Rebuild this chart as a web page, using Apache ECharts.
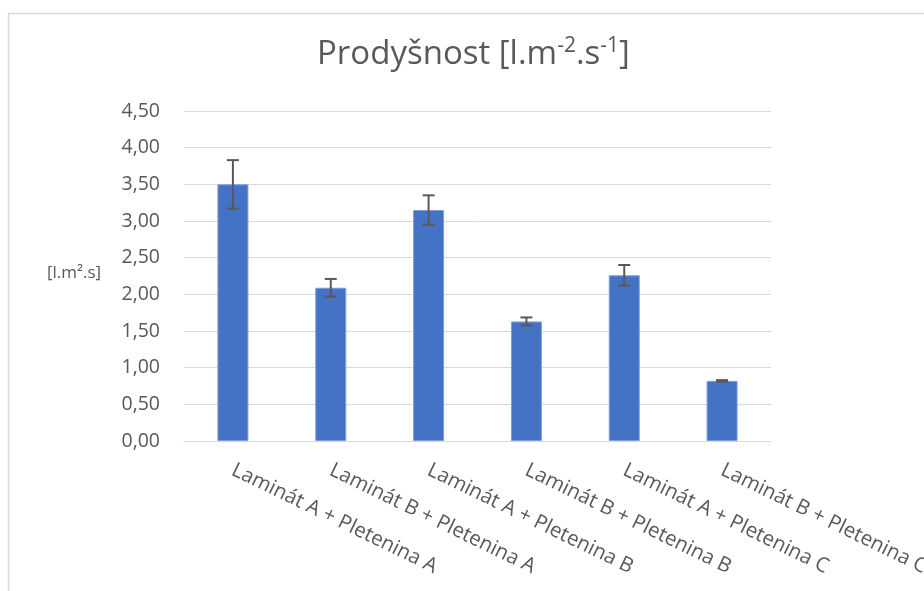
<!DOCTYPE html>
<html>
<head>
<meta charset="utf-8">
<script src="https://cdn.jsdelivr.net/npm/echarts@6/dist/echarts.min.js"></script>
<style>html,body{margin:0;padding:0;background:#fff;}#c{width:924px;height:591px;}</style>
</head>
<body>
<div id="c"></div>
<script>
const categories = [
  'Laminát A + Pletenina A',
  'Laminát B + Pletenina A',
  'Laminát A + Pletenina B',
  'Laminát B + Pletenina B',
  'Laminát A + Pletenina C',
  'Laminát B + Pletenina C'
];
const values = [3.50, 2.09, 3.15, 1.63, 2.26, 0.82];
const errors = [0.33, 0.12, 0.20, 0.055, 0.14, 0.01];
const yTicks = { min: 0, max: 4.5, interval: 0.5 };

const FONT = '"Open Sans", "Noto Sans", sans-serif';
const chart = echarts.init(document.getElementById('c'), null, { renderer: 'canvas' });

const errData = values.map((v, i) => [i, v - errors[i], v + errors[i]]);

chart.setOption({
  backgroundColor: '#ffffff',
  animation: false,
  textStyle: { fontFamily: FONT },
  title: {
    text: '{m|Prodyšnost [l.m}{s|-2}{m|.s}{s|-1}{m|]}',
    left: 312,
    top: 31,
    textStyle: {
      fontWeight: 'normal',
      rich: {
        m: { fontSize: 33, color: '#595959', fontFamily: FONT, fontWeight: 'normal' },
        s: { fontSize: 21, color: '#595959', fontFamily: FONT, fontWeight: 'normal', verticalAlign: 'top', padding: [0, 0, 16, 0] }
      }
    }
  },
  graphic: [
    { type: 'rect', shape: { x: 8.5, y: 13.5, width: 2000, height: 2000 }, style: { fill: 'none', stroke: '#d9d9d9', lineWidth: 1.5 }, silent: true },
    { type: 'text', left: 47, top: 265, style: { text: '[l.m².s]', fontSize: 17, fill: '#595959', fontFamily: FONT } }
  ],
  grid: { left: 184, right: 153, top: 111, bottom: 150, containLabel: false, outerBoundsMode: 'none' },
  xAxis: {
    type: 'category',
    data: categories,
    axisLine: { show: true, lineStyle: { color: '#d9d9d9', width: 1 } },
    axisTick: { show: false },
    axisLabel: {
      interval: 0,
      rotate: -26,
      margin: 28,
      fontSize: 20.5,
      color: '#595959',
      fontFamily: FONT
    }
  },
  yAxis: {
    type: 'value',
    min: yTicks.min,
    max: yTicks.max,
    interval: yTicks.interval,
    axisLine: { show: false },
    axisTick: { show: false },
    splitLine: { lineStyle: { color: '#d9d9d9', width: 1 } },
    axisLabel: {
      fontSize: 19.5,
      color: '#595959',
      margin: 24,
      fontFamily: FONT,
      formatter: v => v.toFixed(2).replace('.', ',')
    }
  },
  series: [
    {
      type: 'bar',
      data: values,
      barWidth: 31,
      itemStyle: { color: '#4472C4', borderColor: '#7d9fdb', borderWidth: 1 }
    },
    {
      type: 'custom',
      data: errData,
      z: 10,
      renderItem: function (params, api) {
        const x = api.value(0);
        const lo = api.coord([x, api.value(1)]);
        const hi = api.coord([x, api.value(2)]);
        const hw = 6;
        const st = { stroke: '#595959', lineWidth: 2, fill: 'none' };
        return {
          type: 'group',
          children: [
            { type: 'line', shape: { x1: hi[0], y1: hi[1], x2: lo[0], y2: lo[1] }, style: st },
            { type: 'line', shape: { x1: hi[0] - hw, y1: hi[1], x2: hi[0] + hw, y2: hi[1] }, style: st },
            { type: 'line', shape: { x1: lo[0] - hw, y1: lo[1], x2: lo[0] + hw, y2: lo[1] }, style: st }
          ]
        };
      }
    }
  ]
});
</script>
</body>
</html>
